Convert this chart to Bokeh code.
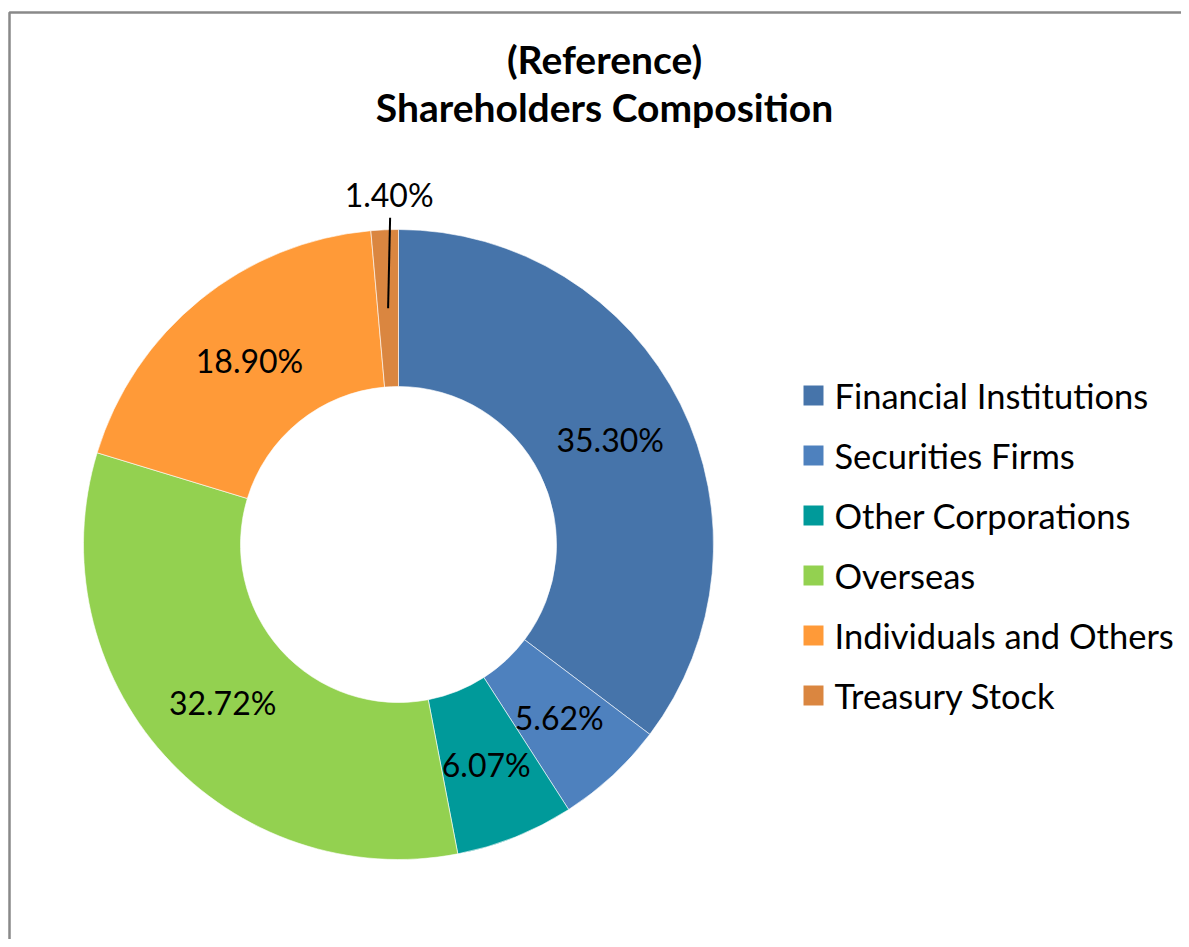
import math
from bokeh.plotting import figure
from bokeh.models import Range1d, ColumnDataSource
from bokeh.core.properties import value
from bokeh.embed import file_html
from bokeh.resources import INLINE

# ---- data ----
categories = ["Financial Institutions", "Securities Firms", "Other Corporations",
              "Overseas", "Individuals and Others", "Treasury Stock"]
shares = [35.30, 5.62, 6.07, 32.72, 18.90, 1.40]
labels = ["35.30%", "5.62%", "6.07%", "32.72%", "18.90%", "1.40%"]
colors = ["#4674AA", "#4E81BE", "#009A9A", "#93D150", "#FF9A38", "#DA8640"]
title_lines = ["(Reference)", "Shareholders Composition"]

FONT = "Lato"
W, H = 1181, 939

def py(y):  # image pixel y -> data y
    return H - y

p = figure(width=W, height=H, x_range=Range1d(0, W), y_range=Range1d(0, H),
           toolbar_location=None, output_backend="svg", min_border=0,
           x_axis_location=None, y_axis_location=None)
p.grid.visible = False
p.outline_line_color = None
p.background_fill_color = "white"
p.border_fill_color = "white"

# chart border (left and top edges visible)
p.line(x=[9, 9, W], y=[py(H), py(12), py(12)], line_color="#898989", line_width=2.5)

# donut
cx, cy = 398, py(544)
r_out, r_in = 315, 158
total = sum(shares)
starts, ends, mids = [], [], []
cum = 0.0
for s in shares:
    a0 = math.pi / 2 - 2 * math.pi * cum / total
    cum += s
    a1 = math.pi / 2 - 2 * math.pi * cum / total
    starts.append(a0)
    ends.append(a1)
    mids.append((a0 + a1) / 2)

src = ColumnDataSource(dict(start=starts, end=ends, color=colors, cat=categories))
p.annular_wedge(x=cx, y=cy, inner_radius=r_in, outer_radius=r_out,
                start_angle="start", end_angle="end", direction="clock",
                fill_color="color", line_color="white", line_alpha=0.6, line_width=1,
                source=src)

# data labels
r_mid = (r_in + r_out) / 2
lx, ly, ltxt = [], [], []
for i, (m, t) in enumerate(zip(mids, labels)):
    if shares[i] < 3:
        continue
    lx.append(cx + r_mid * math.cos(m))
    ly.append(cy + r_mid * math.sin(m))
    ltxt.append(t)
p.text(x=lx, y=ly, text=ltxt, text_font=value(FONT), text_font_size="32px",
       text_align="center", text_baseline="middle", text_color="black")

# small slice label with leader line
for i, (m, t) in enumerate(zip(mids, labels)):
    if shares[i] >= 3:
        continue
    r_lab = 350
    tx = cx + r_lab * math.cos(m) + 6
    ty = cy + r_lab * math.sin(m)
    p.text(x=[tx], y=[ty], text=[t], text_font=value(FONT), text_font_size="32px",
           text_align="center", text_baseline="middle", text_color="black")
    x0 = cx + r_mid * math.cos(m)
    y0 = cy + r_mid * math.sin(m)
    p.line(x=[x0, tx + 1], y=[y0, ty - 23], line_color="black", line_width=2)

# title
p.text(x=[604, 604], y=[py(58), py(106)], text=title_lines, text_font=value(FONT),
       text_font_size="39px", text_font_style="bold", text_align="center",
       text_baseline="middle", text_color="black")

# legend
leg_x = 813
leg_y = [py(395 + 60 * i) for i in range(len(categories))]
p.rect(x=[leg_x] * len(categories), y=leg_y, width=20, height=20,
       fill_color=colors, line_color=None)
p.text(x=[leg_x + 21] * len(categories), y=leg_y, text=categories,
       text_font=value(FONT), text_font_size="34.5px", text_align="left",
       text_baseline="middle", text_color="black")

open("out.html", "w").write(file_html(p, INLINE))
